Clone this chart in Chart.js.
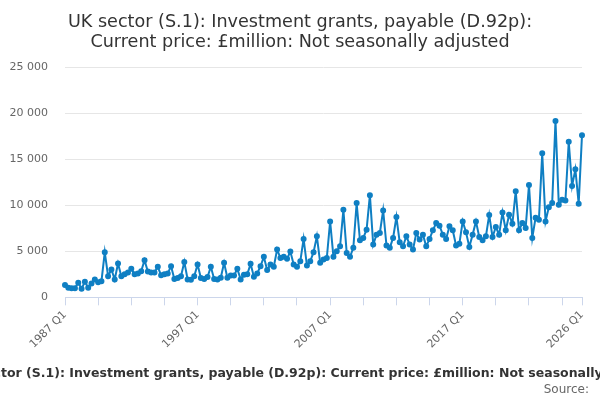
<!DOCTYPE html>
<html>
<head>
<meta charset="utf-8">
<script src="https://cdn.jsdelivr.net/npm/chart.js@4"></script>
<style>
html, body { margin: 0; padding: 0; background: #fff; }
#wrap { width: 600px; height: 400px; }
</style>
</head>
<body>
<div id="wrap"><canvas id="chart"></canvas></div>
<script>
// quarterly series, 1987 Q1 .. 2026 Q1
const startYear = 1987;
const shownLabels = ['1987 Q1', '1997 Q1', '2007 Q1', '2017 Q1', '2026 Q1'];
const yTicks = [0, 5000, 10000, 15000, 20000, 25000];
const seriesName = 'UK sector (S.1): Investment grants, payable (D.92p): Current price: £million: Not seasonally adjusted';
const grants = [
    1330, 1050, 1000, 1000, 1590, 940, 1700, 1050, 1500, 1950, 1650, 1750,
    4900, 2300, 3030, 1950, 3680, 2300, 2500, 2700, 3100, 2500, 2600, 2850,
    4040, 2800, 2700, 2700, 3320, 2400, 2500, 2600, 3390, 2000, 2100, 2300,
    3850, 1950, 1900, 2300, 3570, 2100, 2000, 2200, 3320, 2000, 1950, 2130,
    3750, 2130, 2380, 2380, 3100, 1950, 2450, 2500, 3640, 2240, 2600, 3390,
    4400, 2960, 3570, 3320, 5190, 4290, 4400, 4190, 4980, 3570, 3320, 3930,
    6350, 3460, 3930, 4900, 6640, 3750, 4110, 4290, 8260, 4400, 5010, 5550,
    9520, 4830, 4400, 5380, 10250, 6200, 6460, 7360, 11110, 5740, 6820, 7000,
    9450, 5630, 5380, 6460, 8730, 5990, 5550, 6640, 5740, 5190, 7000, 6280,
    6820, 5550, 6350, 7290, 8080, 7790, 6820, 6350, 7720, 7290, 5630, 5840,
    8260, 7070, 5480, 6820, 8260, 6560, 6200, 6640, 8950, 6560, 7650, 6820,
    9230, 7290, 8980, 8010, 11550, 7290, 8080, 7540, 12230, 6460, 8660, 8440,
    15660, 8260, 9810, 10250, 19190, 10060, 10610, 10530, 16920, 12120, 13930, 10170,
    17640
];

const quarters = [];
for (let i = 0; i < grants.length; i++) {
    quarters.push((startYear + Math.floor(i / 4)) + ' Q' + (i % 4 + 1));
}

const lineBlue = '#0f7fc3';
const axisBlue = '#ccd6eb';

function spaced(v) {
    return String(v).replace(/\B(?=(\d{3})+(?!\d))/g, ' ');
}

// bold series name under the axis and the source line
const footer = {
    id: 'footer',
    afterDraw(chart) {
        const c = chart.ctx;
        c.save();
        c.textBaseline = 'middle';
        c.fillStyle = '#333';
        c.textAlign = 'center';
        c.font = 'bold 12.5px "DejaVu Sans"';
        c.fillText(seriesName, 311, 374);
        c.fillStyle = '#666';
        c.textAlign = 'right';
        c.font = '12px "DejaVu Sans"';
        c.fillText('Source:', 589, 390);
        c.restore();
    }
};

new Chart(document.getElementById('chart'), {
    type: 'line',
    data: {
        labels: quarters,
        datasets: [{
            label: seriesName,
            data: grants,
            borderColor: lineBlue,
            backgroundColor: lineBlue,
            borderWidth: 2,
            pointRadius: 2,
            pointHoverRadius: 3,
            tension: 0
        }]
    },
    options: {
        responsive: true,
        maintainAspectRatio: false,
        animation: false,
        layout: { padding: { top: 4, right: 8, bottom: 46, left: 8 } },
        plugins: {
            legend: { display: false },
            tooltip: { enabled: false },
            title: {
                display: true,
                text: ['UK sector (S.1): Investment grants, payable (D.92p):', 'Current price: £million: Not seasonally adjusted'],
                color: '#333',
                font: { family: 'DejaVu Sans', size: 17.6, weight: 'normal', lineHeight: 1.15 },
                padding: { top: 8, bottom: 15 }
            }
        },
        scales: {
            x: {
                offset: false,
                border: { display: true, color: axisBlue },
                grid: {
                    drawOnChartArea: false,
                    tickLength: 8,
                    tickColor: (ctx) => (ctx.index % 10 === 0 || ctx.index === grants.length - 1) ? axisBlue : 'transparent'
                },
                ticks: {
                    autoSkip: false,
                    minRotation: 45,
                    maxRotation: 45,
                    color: '#666',
                    font: { family: 'DejaVu Sans', size: 11 },
                    callback: function (value) {
                        const l = this.getLabelForValue(value);
                        return shownLabels.includes(l) ? l : '';
                    }
                }
            },
            y: {
                min: yTicks[0],
                max: yTicks[yTicks.length - 1],
                afterBuildTicks: (axis) => { axis.ticks = yTicks.map(v => ({ value: v })); },
                afterFit: (axis) => { axis.width = 57; },
                border: { display: false },
                grid: { color: '#e6e6e6', drawTicks: false },
                ticks: {
                    padding: 17,
                    color: '#666',
                    font: { family: 'DejaVu Sans', size: 11 },
                    callback: (v) => spaced(v)
                }
            },
            // empty right gutter so the plot ends where the reference does
            gutter: {
                position: 'right',
                afterFit: (axis) => { axis.width = 10; },
                border: { display: false },
                grid: { display: false },
                ticks: { display: false }
            }
        }
    },
    plugins: [footer]
});
</script>
</body>
</html>
